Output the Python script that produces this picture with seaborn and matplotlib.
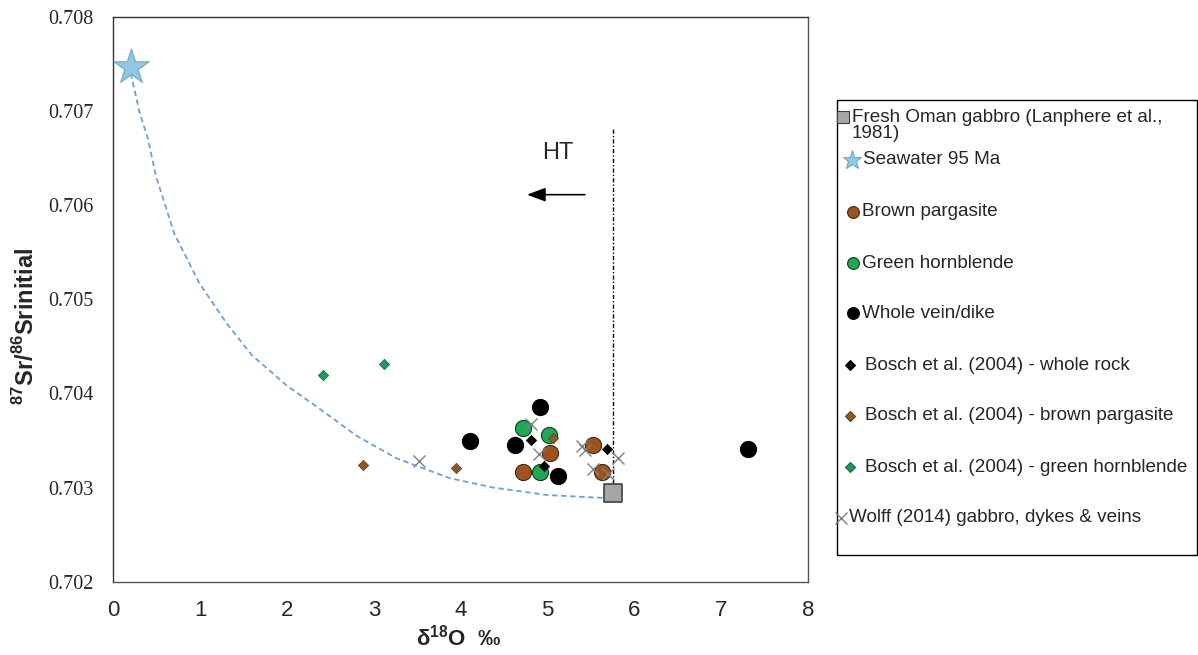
import matplotlib
matplotlib.use("Agg")
import matplotlib.pyplot as plt
from matplotlib.lines import Line2D
from matplotlib.patches import Rectangle
import seaborn as sns

# ---------------- data ----------------
gabbro_x = [5.75]
gabbro_y = [0.70294]
seawater_x = [0.20]
seawater_y = [0.70747]
brown_x = [4.72, 5.03, 5.52, 5.62]
brown_y = [0.70316, 0.70337, 0.70345, 0.70316]
green_x = [4.72, 5.02, 4.91]
green_y = [0.70363, 0.70356, 0.70317]
whole_x = [4.91, 4.11, 4.62, 5.12, 7.31]
whole_y = [0.70386, 0.70349, 0.70345, 0.70312, 0.70341]
bosch_wr_x = [4.81, 4.96, 5.68]
bosch_wr_y = [0.70350, 0.70323, 0.70341]
bosch_bp_x = [2.87, 3.95, 5.06]
bosch_bp_y = [0.70324, 0.70321, 0.70353]
bosch_gh_x = [2.41, 3.12]
bosch_gh_y = [0.70419, 0.70431]
wolff_x = [3.52, 4.81, 4.90, 5.40, 5.43, 5.52, 5.70, 5.81]
wolff_y = [0.70328, 0.70368, 0.70336, 0.70344, 0.70340, 0.70320, 0.70314, 0.70331]

# mixing curve
curve_x = [0.20, 0.25, 0.30, 0.40, 0.49, 0.70, 0.99, 1.30, 1.59, 2.00, 2.34,
           2.80, 3.26, 3.87, 4.37, 5.00, 5.63]
curve_y = [0.70740, 0.70720, 0.70699, 0.70670, 0.70631, 0.70570, 0.70517,
           0.70475, 0.70441, 0.70408, 0.70386, 0.70355, 0.70331, 0.70310,
           0.70300, 0.70292, 0.70289]

xticks = [0, 1, 2, 3, 4, 5, 6, 7, 8]
yticks = [0.702, 0.703, 0.704, 0.705, 0.706, 0.707, 0.708]

legend_labels = ["Fresh Oman gabbro (Lanphere et al.,", "1981)", "Seawater 95 Ma",
                 "Brown pargasite", "Green hornblende", "Whole vein/dike",
                 "Bosch et al. (2004) - whole rock",
                 "Bosch et al. (2004) - brown pargasite",
                 "Bosch et al. (2004) - green hornblende",
                 "Wolff (2014) gabbro, dykes & veins"]

# ---------------- style ----------------
sns.set_style("white")
plt.rcParams['font.family'] = ['Liberation Sans', 'DejaVu Sans']
plt.rcParams['mathtext.fontset'] = 'custom'
plt.rcParams['mathtext.bf'] = 'Liberation Sans:bold'
plt.rcParams['mathtext.rm'] = 'Liberation Sans'

W, H = 1198, 655
AX_L, AX_R, AX_T, AX_B = 113.3, 808.3, 16.7, 581.7
fig = plt.figure(figsize=(W / 100, H / 100), dpi=100)
ax = fig.add_axes([AX_L / W, 1 - AX_B / H, (AX_R - AX_L) / W, (AX_B - AX_T) / H])

BROWN = '#a0521e'
GREEN = '#1fa85a'
BDIAM = '#8b5a2b'
GDIAM = '#1f9960'
XGRAY = '#808080'
STAR = '#92c8e0'

# curve
sns.lineplot(x=curve_x, y=curve_y, sort=False, estimator=None, ax=ax,
             color='#6d9ed6', lw=1.3, linestyle=(0, (3, 2)), zorder=1)

# vertical dash-dot line at the gabbro delta18O
ax.plot([gabbro_x[0], gabbro_x[0]], [gabbro_y[0], 0.70682], color='black', lw=1,
        linestyle=(0, (3, 1.5, 1, 1.5)), zorder=1)

sns.scatterplot(x=gabbro_x, y=gabbro_y, marker='s', s=185, color='#a6a6a6',
                edgecolor='#404040', linewidth=1.2, ax=ax, zorder=3)
sns.scatterplot(x=seawater_x, y=seawater_y, marker='*', s=700, color=STAR,
                edgecolor='#6fa8c8', linewidth=0.8, ax=ax, zorder=3)
sns.scatterplot(x=brown_x, y=brown_y, marker='o', s=135, color=BROWN,
                edgecolor='#3a2a1a', linewidth=0.8, ax=ax, zorder=3)
sns.scatterplot(x=green_x, y=green_y, marker='o', s=135, color=GREEN,
                edgecolor='#1a3a1a', linewidth=0.8, ax=ax, zorder=3)
sns.scatterplot(x=whole_x, y=whole_y, marker='o', s=135, color='black',
                edgecolor='black', linewidth=0.8, ax=ax, zorder=3)
sns.scatterplot(x=bosch_wr_x, y=bosch_wr_y, marker='D', s=28, color='black',
                edgecolor='black', linewidth=0.5, ax=ax, zorder=4)
sns.scatterplot(x=bosch_bp_x, y=bosch_bp_y, marker='D', s=28, color=BDIAM,
                edgecolor='#5a3a1a', linewidth=0.5, ax=ax, zorder=4)
sns.scatterplot(x=bosch_gh_x, y=bosch_gh_y, marker='D', s=28, color=GDIAM,
                edgecolor='#136a40', linewidth=0.5, ax=ax, zorder=4)
sns.scatterplot(x=wolff_x, y=wolff_y, marker='x', s=75, color=XGRAY,
                linewidth=1.0, ax=ax, zorder=5)

# HT annotation
ax.text(5.12, 0.70655, "HT", fontsize=17, ha='center', va='center')
ax.annotate('', xy=(4.73, 0.70611), xytext=(5.46, 0.70611),
            arrowprops=dict(arrowstyle='-|>,head_length=0.8,head_width=0.3',
                            lw=1.2, color='black', mutation_scale=14))

# axes
ax.set_xlim(0, 8)
ax.set_ylim(0.702, 0.708)
ax.set_xticks(xticks)
ax.set_yticks(yticks)
ax.set_xticklabels([str(t) for t in xticks], fontsize=16)
ax.set_yticklabels([f"{t:.3f}" for t in yticks], fontsize=14.5,
                   family=['Liberation Serif', 'DejaVu Serif'])
ax.tick_params(axis='both', direction='out', length=7, width=1, color='#404040')
ax.tick_params(axis='y', pad=7)
ax.tick_params(axis='x', pad=6)
for sp in ax.spines.values():
    sp.set_visible(True)
    sp.set_linewidth(1)
    sp.set_color('#555555')
ax.spines['left'].set_color('#333333')
ax.spines['top'].set_color('#333333')
ax.grid(False)

ax.set_xlabel(r"δ$^{\mathbf{18}}$O  ‰", fontsize=16, fontweight='bold')
ax.set_ylabel(r"$^{\mathbf{87}}$Sr/$^{\mathbf{86}}$Srinitial", fontsize=17,
              fontweight='bold')
ax.yaxis.set_label_coords((39 - AX_L) / (AX_R - AX_L), 0.451)
ax.xaxis.set_label_coords(0.497, -(625 - AX_B) / (AX_B - AX_T))


# ---------------- legend (manual, figure pixel coords) ----------------
def fx(px):
    return px / W


def fy(py):
    return 1 - py / H


box = Rectangle((fx(837), fy(555)), fx(1196.5) - fx(837), fy(100) - fy(555),
                transform=fig.transFigure, fill=False, edgecolor='black', lw=1)
fig.add_artist(box)

LFS = 13.6
entries = [
    # (marker, size, face, edge, mx, my, text x, text y, label index)
    ('s', 9, '#a6a6a6', '#404040', 843, 117, 852, 117, 0),
    ('*', 14, STAR, '#6fa8c8', 851.7, 160, 863, 160, 2),
    ('o', 8.5, BROWN, '#3a2a1a', 852.7, 212, 862, 212, 3),
    ('o', 8.5, GREEN, '#1a3a1a', 852.7, 263, 862, 263, 4),
    ('o', 8.5, 'black', 'black', 852.7, 313, 862, 313, 5),
    ('D', 5.5, 'black', 'black', 850, 365, 865, 365, 6),
    ('D', 5.5, BDIAM, '#5a3a1a', 850, 416, 865, 416, 7),
    ('D', 5.5, GDIAM, '#136a40', 850, 467, 865, 467, 8),
    ('x', 8, XGRAY, XGRAY, 841, 518, 849, 518, 9),
]
for mk, ms, fc, ec, mx, my, tx, ty, li in entries:
    fig.add_artist(Line2D([fx(mx)], [fy(my)], marker=mk, markersize=ms,
                          markerfacecolor=fc, markeredgecolor=ec,
                          markeredgewidth=1.0 if mk == 'x' else 0.8,
                          linestyle='none', transform=fig.transFigure))
    fig.text(fx(tx), fy(ty), legend_labels[li], fontsize=LFS, ha='left',
             va='center')
fig.text(fx(852), fy(134), legend_labels[1], fontsize=LFS, ha='left', va='center')

fig.savefig("out.png", dpi=100)
